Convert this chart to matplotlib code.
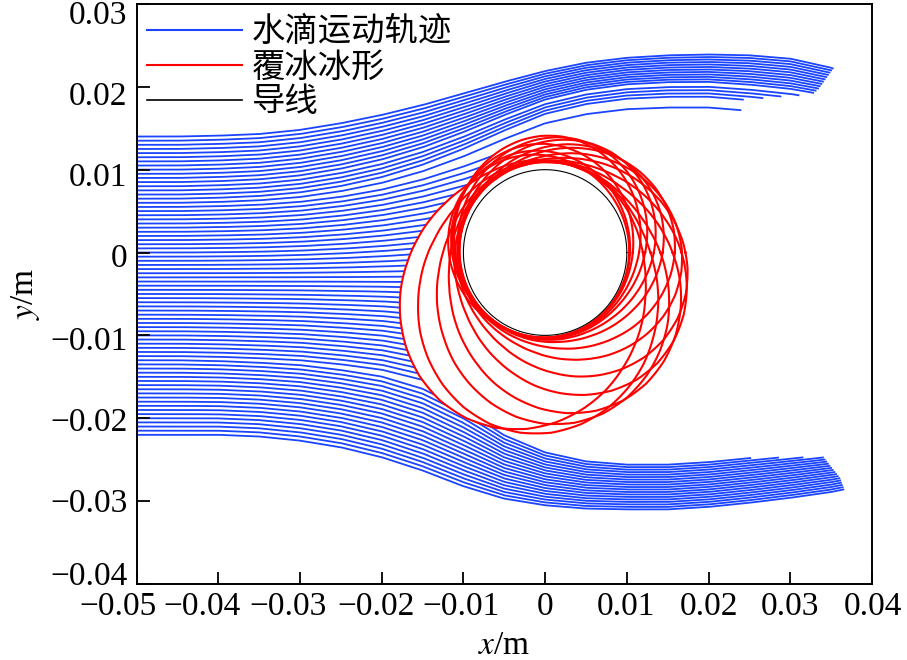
import numpy as np
import matplotlib

matplotlib.use("Agg")
import matplotlib.pyplot as plt
import matplotlib.transforms as mtransforms
from matplotlib.lines import Line2D

plt.rcParams["font.family"] = ["Liberation Serif", "Noto Sans CJK SC"]
plt.rcParams["mathtext.fontset"] = "stix"

# ---- guide trajectories (y at stations x_st) ------------------------------
x_st = [-0.05, -0.045, -0.04, -0.035, -0.03, -0.025, -0.02, -0.015, -0.01,
        -0.005, 0.0, 0.005, 0.01, 0.015, 0.02, 0.025, 0.03, 0.035, 0.037]
up_top = [0.0140, 0.0140, 0.0141, 0.0143, 0.0148, 0.0156, 0.0166, 0.0178,
          0.0192, 0.0206, 0.0219, 0.0229, 0.0235, 0.0238, 0.0239, 0.0238,
          0.0234, 0.0223, 0.0215]
up_inner = [0.0060, 0.0060, 0.0061, 0.0063, 0.0067, 0.0074, 0.0084, 0.0098,
            0.0116, 0.0137, 0.0156, 0.0167, 0.0173, 0.0175, 0.0175, 0.0171,
            0.0166, 0.0160, 0.0157]
low_bot = [-0.0220, -0.0220, -0.0220, -0.0222, -0.0227, -0.0235, -0.0247,
           -0.0263, -0.0282, -0.0297, -0.0305, -0.0309, -0.0310, -0.0310,
           -0.0307, -0.0302, -0.0296, -0.0289, -0.0285]
low_inner = [-0.0130, -0.0130, -0.0131, -0.0133, -0.0136, -0.0142, -0.0150,
             -0.0165, -0.0190, -0.0222, -0.0243, -0.0254, -0.0258, -0.0258,
             -0.0255, -0.0250, -0.0245, -0.0240, -0.0238]

# droplets passing above the ice: release height, peak height, end x
up_y0 = [0.0140, 0.0135, 0.0130, 0.0125, 0.0120, 0.0115, 0.0110, 0.0105,
         0.0100, 0.0095, 0.0090, 0.0085, 0.0080, 0.0075, 0.0070, 0.0065, 0.0060]
up_peak = [0.0239, 0.0236, 0.0233, 0.0230, 0.0227, 0.0224, 0.0221, 0.0218,
           0.0215, 0.0212, 0.0209, 0.0206, 0.0200, 0.0196, 0.0192, 0.0188, 0.0175]
up_end = [0.0352, 0.0350, 0.0348, 0.0346, 0.0344, 0.0342, 0.0340, 0.0338,
          0.0336, 0.0334, 0.0331, 0.0328, 0.0310, 0.0288, 0.0266, 0.0242, 0.0239]

# droplets passing below the ice
low_y0 = [-0.0220, -0.0215, -0.0210, -0.0205, -0.0200, -0.0195, -0.0190,
          -0.0185, -0.0180, -0.0175, -0.0170, -0.0165, -0.0160, -0.0155,
          -0.0150, -0.0145, -0.0140, -0.0135, -0.0130]
low_peak = [-0.0310, -0.0307, -0.0304, -0.0301, -0.0298, -0.0295, -0.0292,
            -0.0289, -0.0286, -0.0283, -0.0280, -0.0277, -0.0274, -0.0271,
            -0.0268, -0.0265, -0.0262, -0.0259, -0.0256]
low_end = [0.0365, 0.0364, 0.0363, 0.0362, 0.0361, 0.0360, 0.0358, 0.0356,
           0.0354, 0.0352, 0.0350, 0.0348, 0.0346, 0.0344, 0.0342, 0.0340,
           0.0315, 0.0285, 0.0251]

# droplets hitting the ice: release height and deflection before impact
mid_y0 = [0.0055, 0.0050, 0.0045, 0.0040, 0.0035, 0.0030, 0.0025, 0.0020,
          0.0015, 0.0010, 0.0005, 0.0000, -0.0005, -0.0010, -0.0015, -0.0020,
          -0.0025, -0.0030, -0.0035, -0.0040, -0.0045, -0.0050, -0.0055,
          -0.0060, -0.0065, -0.0070, -0.0075, -0.0080, -0.0085, -0.0090,
          -0.0095, -0.0100, -0.0105, -0.0110, -0.0115, -0.0120, -0.0125]
mid_defl = [0.0100, 0.0094, 0.0089, 0.0083, 0.0077, 0.0072, 0.0066, 0.0060,
            0.0054, 0.0049, 0.0043, 0.0037, 0.0032, 0.0026, 0.0020, 0.0015,
            0.0009, 0.0003, -0.0002, -0.0008, -0.0014, -0.0020, -0.0025,
            -0.0031, -0.0037, -0.0042, -0.0048, -0.0054, -0.0059, -0.0065,
            -0.0071, -0.0077, -0.0082, -0.0088, -0.0094, -0.0099, -0.0105]

# ice layer thickness (m) vs angle away from its thickest point (deg)
ice_delta = [0, 10, 20, 30, 40, 50, 60, 70, 80, 90, 100, 110, 120, 135,
             150, 165, 180]
ice_thick = [0.0122, 0.0120, 0.0114, 0.0105, 0.0094, 0.0082, 0.0069, 0.0057,
             0.0046, 0.0036, 0.0028, 0.0022, 0.0018, 0.0014, 0.0012, 0.0010,
             0.0010]
# successive ice shapes: direction of thickest point (deg) and relative size
ice_dir = [244, 262, 280, 298, 316, 334, 352, 10, 28, 46, 64, 82, 100, 118, 136]
ice_scale = [1.00, 0.98, 0.89, 0.84, 0.75, 0.66, 0.56, 0.49, 0.41, 0.38,
             0.35, 0.34, 0.26, 0.21, 0.20]
wire_r = 0.01

labels = ["水滴运动轨迹", "覆冰冰形", "导线"]
blue, red = "#1a44ff", "#ff0000"
lw_drop = 1.3


def norm_shape(g):
    g = np.asarray(g, float)
    ext = g[np.argmax(np.abs(g - g[0]))]
    return (g - g[0]) / (ext - g[0])


s_up_top, s_up_in = norm_shape(up_top), norm_shape(up_inner)
s_low_bot, s_low_in = norm_shape(low_bot), norm_shape(low_inner)

fig = plt.figure(figsize=(9.07, 6.6), dpi=100)
ax = fig.add_axes([0.1505, 0.1152, 0.8109, 0.8788])

n = len(up_y0)
for i in range(n):
    f = i / (n - 1)
    x = np.linspace(-0.05, up_end[i], 300)
    s = (1 - f) * np.interp(x, x_st, s_up_top) + f * np.interp(x, x_st, s_up_in)
    ax.plot(x, up_y0[i] + (up_peak[i] - up_y0[i]) * s, c=blue, lw=lw_drop, zorder=1)

n = len(low_y0)
for i in range(n):
    f = i / (n - 1)
    x = np.linspace(-0.05, low_end[i], 300)
    s = (1 - f) * np.interp(x, x_st, s_low_bot) + f * np.interp(x, x_st, s_low_in)
    ax.plot(x, low_y0[i] + (low_peak[i] - low_y0[i]) * s, c=blue, lw=lw_drop, zorder=1)

for y0, d in zip(mid_y0, mid_defl):
    x = np.linspace(-0.05, 0.0, 300)
    s = np.interp(x, x_st, s_up_in if d > 0 else s_low_in)
    ax.plot(x, y0 + d * s, c=blue, lw=lw_drop, zorder=1)

# ice shapes: white body hides the droplet paths, red outline on top
th = np.linspace(0, 360, 721)
shapes = []
for b, sc in zip(ice_dir, ice_scale):
    dev = np.abs((th - b + 180) % 360 - 180)
    r = wire_r + sc * np.interp(dev, ice_delta, ice_thick)
    shapes.append((r * np.cos(np.radians(th)), r * np.sin(np.radians(th))))
for xs, ys in shapes:
    ax.fill(xs, ys, fc="white", ec="none", zorder=2)
for xs, ys in shapes:
    ax.plot(xs, ys, c=red, lw=1.5, zorder=3)
tw = np.radians(th)
ax.fill(wire_r * np.cos(tw), wire_r * np.sin(tw), fc="white", ec="none", zorder=4)
ax.plot(wire_r * np.cos(tw), wire_r * np.sin(tw), c="black", lw=0.8, zorder=5)

ax.set_xlim(-0.05, 0.04)
ax.set_ylim(-0.04, 0.03)
xt = np.round(np.arange(-0.05, 0.0401, 0.01), 2)
yt = np.round(np.arange(-0.04, 0.0301, 0.01), 2)
ax.set_xticks(xt)
ax.set_yticks(yt)
fmt = lambda v: "0" if v == 0 else f"{v:.2f}".replace("-", "\u2212")
ax.set_xticklabels([fmt(v) for v in xt])
ax.set_yticklabels([fmt(v) for v in yt])
ax.tick_params(direction="in", length=9, width=1.3, labelsize=24)
ax.tick_params(axis="x", pad=5.5)
ax.tick_params(axis="y", pad=6.5)
for sp in ax.spines.values():
    sp.set_linewidth(1.4)

# small label shifts (pixels) to sit like the original typesetting
x_shift = [-19, -16, -12, -6, -2.5, 0, -1, 0, 0, 1]
y_shift = [-11, -1, 1, 3, 3, 5, 6, 8]
for lab, dx in zip(ax.get_xticklabels(), x_shift):
    lab.set_transform(lab.get_transform() + mtransforms.ScaledTranslation(
        dx / 100, 0, fig.dpi_scale_trans))
for lab, dy in zip(ax.get_yticklabels(), y_shift):
    lab.set_transform(lab.get_transform() + mtransforms.ScaledTranslation(
        0, -dy / 100, fig.dpi_scale_trans))

ax.set_xlabel("$x$/m", fontsize=24, labelpad=6)
ax.set_ylabel("$y$/m", fontsize=24, labelpad=6)

handles = [Line2D([], [], c=blue, lw=1.5), Line2D([], [], c=red, lw=1.5),
           Line2D([], [], c="black", lw=1.2)]
ax.legend(handles, labels, loc="upper left", frameon=False,
          prop={"family": "Noto Sans CJK SC", "size": 24},
          handlelength=2.85, handletextpad=0.3, labelspacing=0.0,
          borderaxespad=0.21, borderpad=0.1)

fig.savefig("out.png", dpi=100)
